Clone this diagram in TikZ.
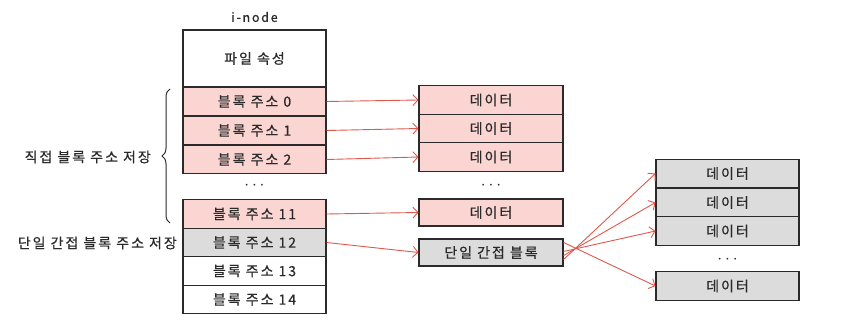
\documentclass[tikz,border=0pt]{standalone}
\usepackage{fontspec}
\newfontfamily\kr[LetterSpace=14,FakeBold=0.6]{Noto Sans CJK KR}
\usetikzlibrary{arrows.meta,decorations.pathreplacing}
\definecolor{pinkfill}{HTML}{FAD5D1}
\definecolor{grayfill}{HTML}{DCDCDC}
\definecolor{arrowred}{HTML}{E0574C}
\definecolor{ink}{HTML}{2A2A2A}
\tikzset{
  cell/.style={draw=ink, line width=1.1pt, minimum width=143pt, minimum height=28.5pt, inner sep=0pt, font=\kr\fontsize{14}{15}\selectfont, text=ink},
  pinkcell/.style={cell, fill=pinkfill},
  graycell/.style={cell, fill=grayfill},
  whitecell/.style={cell, fill=white},
  ptr/.style={draw=arrowred, line width=0.9pt, -{Straight Barb[length=5pt,width=11pt]}},
  lbl/.style={font=\kr\fontsize{14}{15}\selectfont, text=ink, inner sep=0pt},
  dots/.style={font=\fontsize{18}{18}\selectfont, text=ink, inner sep=0pt}
}
\begin{document}
\begin{tikzpicture}[x=1pt,y=-1pt]
\useasboundingbox (0,0) rectangle (844,331);
% i-node column
\node[lbl, font=\kr\fontsize{12.5}{13}\selectfont] (title) at (254.5,17) {i-node};
\node[whitecell, minimum height=57pt] (attr) at (254.5,58.5) {파일 속성};
\node[pinkcell] (b0) at (254.5,101.5) {블록 주소 0};
\node[pinkcell] (b1) at (254.5,130.5) {블록 주소 1};
\node[pinkcell] (b2) at (254.5,159.5) {블록 주소 2};
\node[dots] (idots) at (254.5,186) {$\cdots$};
\node[pinkcell] (b11) at (254.5,214) {블록 주소 11};
\node[graycell] (b12) at (254.5,242.5) {블록 주소 12};
\node[whitecell] (b13) at (254.5,271) {블록 주소 13};
\node[whitecell] (b14) at (254.5,299.5) {블록 주소 14};
% middle data
\node[pinkcell, minimum width=144pt] (d0) at (491,100) {데이터};
\node[pinkcell, minimum width=144pt] (d1) at (491,128.5) {데이터};
\node[pinkcell, minimum width=144pt] (d2) at (491,157) {데이터};
\node[dots] (mdots) at (491,186) {$\cdots$};
\node[pinkcell, minimum width=144pt, minimum height=27pt] (d11) at (491,212.5) {데이터};
\node[graycell, minimum width=144pt, minimum height=27pt] (ind) at (491,252.5) {단일 간접 블록};
% right data
\node[graycell] (r0) at (727.5,173.5) {데이터};
\node[graycell] (r1) at (727.5,202.5) {데이터};
\node[graycell] (r2) at (727.5,231) {데이터};
\node[dots] (rdots) at (727.5,260) {$\cdots$};
\node[graycell] (r3) at (727.5,286) {데이터};
% labels
\node[lbl, anchor=east] (direct) at (151,157) {직접 블록 주소 저장};
\node[lbl, anchor=east] (single) at (177,243) {단일 간접 블록 주소 저장};
\coordinate (bt) at (170,89);
\coordinate (bb) at (170,223);
\draw[ink, line width=1pt, decorate, decoration={brace, amplitude=8pt}] (bb) -- (bt);
% arrows
\draw[ptr] (b0.east) -- (d0.west);
\draw[ptr] (b1.east) -- (d1.west);
\draw[ptr] (b2.east) -- (d2.west);
\draw[ptr] (b11.east) -- (d11.west);
\draw[ptr] (b12.east) -- (ind.west);
\draw[ptr] ([yshift=-7pt]ind.east) -- (r0.west);
\draw[ptr] ([yshift=-3pt]ind.east) -- (r1.west);
\draw[ptr] ([yshift=1pt]ind.east) -- (r2.west);
\draw[ptr] ([yshift=10pt]ind.east) -- (r3.west);
\end{tikzpicture}
\end{document}
